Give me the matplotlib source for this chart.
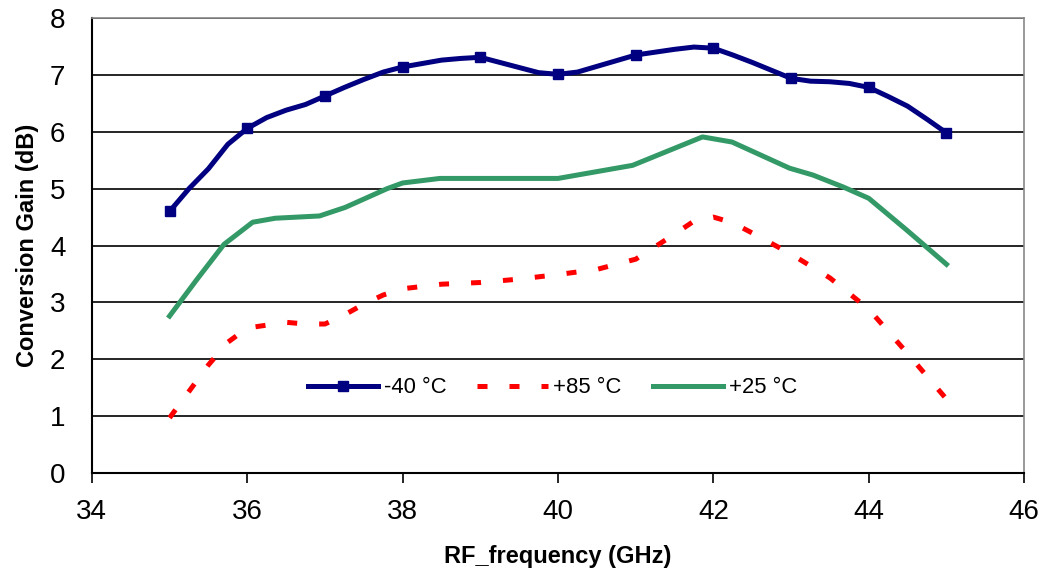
import matplotlib.pyplot as plt

plt.rcParams['font.family'] = ['Liberation Sans', 'DejaVu Sans']

# -40 °C
freq_m40 = [35.0, 35.25, 35.5, 35.75, 36.0, 36.25, 36.5, 36.75, 37.0, 37.25, 37.5, 37.75,
            38.0, 38.25, 38.5, 38.75, 39.0, 39.25, 39.5, 39.75, 40.0, 40.25, 40.5, 40.75,
            41.0, 41.25, 41.5, 41.75, 42.0, 42.25, 42.5, 42.75, 43.0, 43.25, 43.5, 43.75,
            44.0, 44.25, 44.5, 44.75, 45.0]
gain_m40 = [4.60, 5.0, 5.35, 5.78, 6.06, 6.25, 6.38, 6.48, 6.63, 6.78, 6.92, 7.05,
            7.14, 7.20, 7.26, 7.29, 7.31, 7.22, 7.13, 7.04, 7.01, 7.05, 7.15, 7.25,
            7.35, 7.40, 7.45, 7.49, 7.47, 7.35, 7.22, 7.08, 6.94, 6.89, 6.88, 6.85,
            6.78, 6.62, 6.45, 6.22, 5.98]
marker_freqs = [35, 36, 37, 38, 39, 40, 41, 42, 43, 44, 45]

# +85 °C
freq_p85 = [35.0, 35.5, 35.75, 36.0, 36.5, 36.75, 37.0, 37.25, 37.5, 37.75, 38.0, 38.5,
            39.0, 39.5, 40.0, 40.5, 41.0, 41.5, 41.75, 42.0, 42.25, 42.5, 43.0, 43.5,
            44.0, 44.5, 45.0]
gain_p85 = [0.97, 1.90, 2.30, 2.55, 2.65, 2.62, 2.62, 2.78, 2.97, 3.13, 3.24, 3.32,
            3.35, 3.41, 3.49, 3.58, 3.76, 4.20, 4.43, 4.50, 4.40, 4.22, 3.85, 3.43,
            2.88, 2.10, 1.30]

# +25 °C
freq_p25 = [35.0, 35.35, 35.7, 36.07, 36.36, 36.93, 37.26, 37.8, 38.0, 38.48, 39.0, 40.0,
            40.96, 41.86, 42.24, 42.98, 43.28, 43.67, 44.0, 44.49, 45.0]
gain_p25 = [2.76, 3.40, 4.02, 4.41, 4.48, 4.52, 4.67, 5.00, 5.10, 5.18, 5.18, 5.18,
            5.41, 5.91, 5.82, 5.36, 5.24, 5.03, 4.83, 4.27, 3.67]

fig = plt.figure(figsize=(10.44, 5.73), dpi=100)
ax = fig.add_axes([0.088, 0.1745, 0.893, 0.794])

marks = [freq_m40.index(f) for f in marker_freqs]
ax.plot(freq_m40, gain_m40, color='#000080', lw=3.6, marker='s', markersize=7.2,
        markevery=marks, label='-40 °C', zorder=4)
ax.plot(freq_p85, gain_p85, color='#FF0000', lw=3.6, linestyle=(0, (2.0, 4.4)),
        dash_capstyle='butt', label='+85 °C', zorder=3)
ax.plot(freq_p25, gain_p25, color='#339966', lw=3.6, label='+25 °C', zorder=3)

ax.set_xlim(34, 46)
ax.set_ylim(0, 8)
ax.set_xticks(range(34, 47, 2))
ax.set_yticks(range(0, 9))
ax.grid(axis='y', color='black', lw=1.2)
ax.set_axisbelow(True)

for side in ['left', 'bottom']:
    ax.spines[side].set_color('black')
    ax.spines[side].set_linewidth(1.5)
for side in ['top', 'right']:
    ax.spines[side].set_color('#888888')
    ax.spines[side].set_linewidth(1.2)

ax.tick_params(axis='both', labelsize=20, width=1.2)
ax.tick_params(axis='x', length=7, direction='out', pad=12)
ax.tick_params(axis='y', length=0, pad=19)

ax.set_xlabel('RF_frequency (GHz)', fontsize=17, fontweight='bold', labelpad=14)
ax.set_ylabel('Conversion Gain (dB)', fontsize=17, fontweight='bold', labelpad=8)

ax.legend(loc='center', bbox_to_anchor=(0.494, 0.187), ncol=3, frameon=False,
          fontsize=15.8, handlelength=3.2, columnspacing=1.4, handletextpad=0.27)

fig.savefig('out.png', dpi=100)
